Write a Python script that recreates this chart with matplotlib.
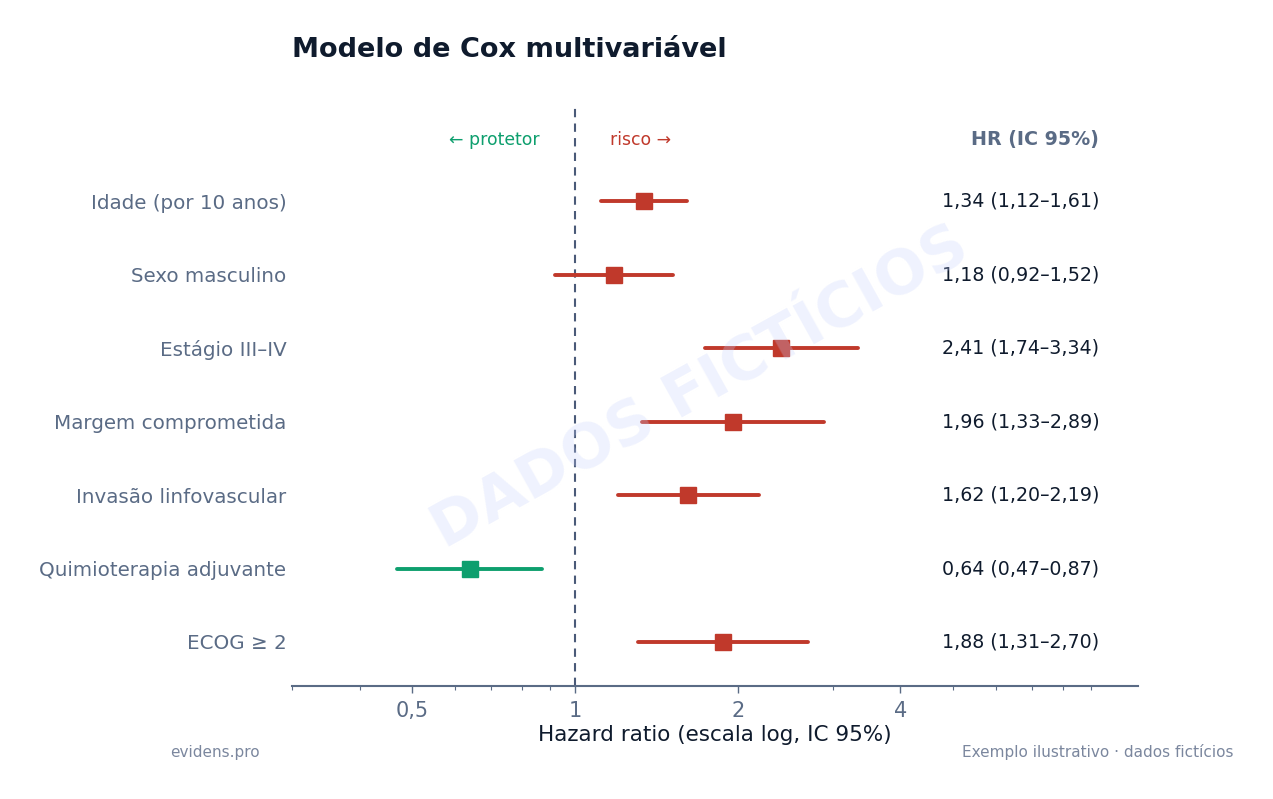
import matplotlib.pyplot as plt
from matplotlib.ticker import FixedLocator, LogLocator, NullFormatter

labels = ['Idade (por 10 anos)', 'Sexo masculino', 'Estágio III–IV',
          'Margem comprometida', 'Invasão linfovascular',
          'Quimioterapia adjuvante', 'ECOG ≥ 2']
hr = [1.34, 1.18, 2.41, 1.96, 1.62, 0.64, 1.88]
lo = [1.12, 0.92, 1.74, 1.33, 1.20, 0.47, 1.31]
hi = [1.61, 1.52, 3.34, 2.89, 2.19, 0.87, 2.70]
ticks = [0.5, 1, 2, 4]
tick_labels = ['0,5', '1', '2', '4']

RED = '#c0392b'
GREEN = '#0e9f6e'
DARK = '#0f1b2d'
GREY = '#5a6b85'

def fmt(v):
    return f'{v:.2f}'.replace('.', ',')

fig = plt.figure(figsize=(12.73, 7.99), dpi=100)
ax = fig.add_axes([0.2294, 0.1414, 0.6646, 0.7259])

for i in range(len(labels)):
    c = GREEN if hr[i] < 1 else RED
    ax.plot([lo[i], hi[i]], [i, i], color=c, lw=2.8, solid_capstyle='round', zorder=3)
    ax.plot(hr[i], i, marker='s', ms=12, color=c, zorder=4)
    ax.text(0.954, i, f'{fmt(hr[i])} ({fmt(lo[i])}–{fmt(hi[i])})',
            transform=ax.get_yaxis_transform(), ha='right', va='center',
            fontsize=13.7, color=DARK)

ax.axvline(1, color='#4a5a78', lw=1.5, ls=(0, (4, 3)), zorder=2)

ax.set_xscale('log')
ax.set_xlim(0.3, 11)
ax.set_ylim(6.6, -1.3)
ax.xaxis.set_major_locator(FixedLocator(ticks))
ax.set_xticklabels(tick_labels)
ax.xaxis.set_minor_locator(LogLocator(base=10, subs=range(2, 10)))
ax.xaxis.set_minor_formatter(NullFormatter())
ax.tick_params(axis='x', which='major', length=5, width=1, color=GREY,
               labelsize=15, labelcolor=GREY, pad=6)
ax.tick_params(axis='x', which='minor', length=3, width=0.8, color=GREY)
ax.set_yticks(range(len(labels)))
ax.set_yticklabels(labels)
ax.tick_params(axis='y', length=0, labelsize=14.3, labelcolor=GREY, pad=4)

for s in ['top', 'right', 'left']:
    ax.spines[s].set_visible(False)
ax.spines['bottom'].set_color(GREY)
ax.spines['bottom'].set_linewidth(1.5)

ax.set_xlabel('Hazard ratio (escala log, IC 95%)', fontsize=15.5, color=DARK, labelpad=3)

ax.text(0.86, -0.84, '← protetor', ha='right', va='center', fontsize=12.4, color=GREEN)
ax.text(1.16, -0.84, 'risco →', ha='left', va='center', fontsize=12.4, color=RED)
ax.text(0.954, -0.84, 'HR (IC 95%)', transform=ax.get_yaxis_transform(),
        ha='right', va='center', fontsize=13.7, fontweight='bold', color=GREY)

fig.text(292 / 1273, 1 - 50 / 799, 'Modelo de Cox multivariável', ha='left', va='center',
         fontsize=19.5, fontweight='bold', color=DARK)
fig.text(170 / 1273, 1 - 752 / 799, 'evidens.pro', ha='left', va='center',
         fontsize=11, color='#7b879e')
fig.text(1234 / 1273, 1 - 752 / 799, 'Exemplo ilustrativo · dados fictícios',
         ha='right', va='center', fontsize=11, color='#7b879e')
fig.text(700 / 1273, 1 - 388 / 799, 'DADOS FICTÍCIOS', ha='center', va='center',
         fontsize=44, fontweight='bold', color='#c7d2fe', alpha=0.28, rotation=29,
         zorder=10)

fig.savefig('out.png', dpi=100)
